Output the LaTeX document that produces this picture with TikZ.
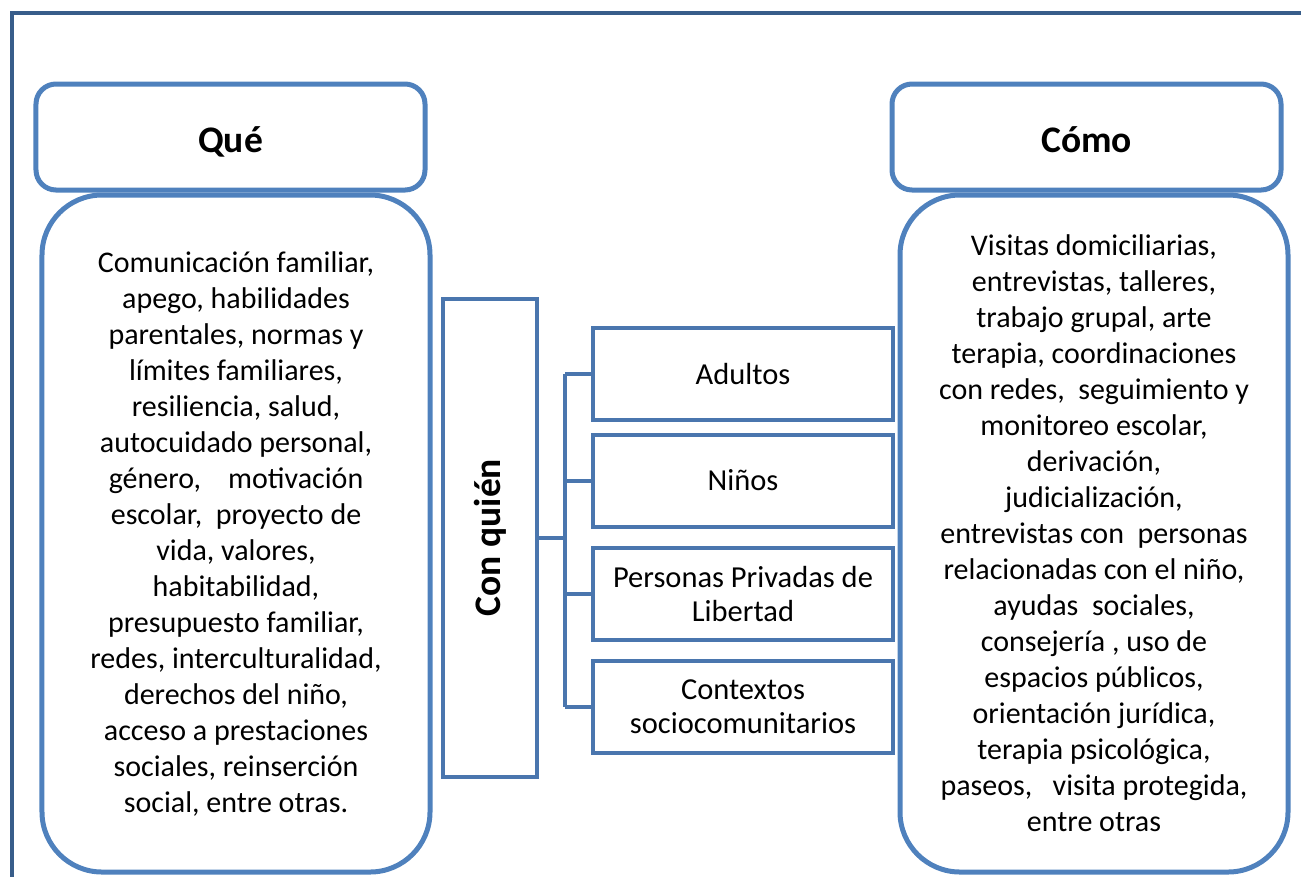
\documentclass[tikz,border=0pt]{standalone}
\usepackage{fontspec}
\setmainfont{Carlito}
\usepackage{tikz}

\definecolor{azulmarco}{HTML}{385D8A}
\definecolor{azulborde}{HTML}{4F81BD}
\definecolor{azulcaja}{HTML}{4A76AE}

\begin{document}
\begin{tikzpicture}[x=0.4pt,y=-0.4pt,
  titulo/.style={draw=azulborde, line width=2pt, rounded corners=8pt, minimum width=155.6pt, minimum height=42.4pt, text height=12.5pt, text depth=0pt, font=\fontsize{15}{18}\selectfont\bfseries},
  cuerpo/.style={draw=azulborde, line width=2pt, rounded corners=24pt, minimum width=155.2pt, minimum height=270.8pt, align=center, font=\fontsize{12}{14.4}\selectfont},
  grupo/.style={draw=azulcaja, line width=1.6pt, minimum width=120pt, minimum height=36.8pt, align=center, font=\fontsize{12.2}{13.6}\selectfont},
  enlace/.style={draw=azulcaja, line width=1.6pt}]
\useasboundingbox (0,0) rectangle (1301,876);

% marco
\draw[azulmarco, line width=1.8pt] (12,880) -- (12,13) -- (1305,13);

% que
\node[titulo] (que) at (230.5,137) {Qué};
\node[cuerpo] (quetexto) at (236,533.5) {Comunicación familiar,\\ apego, habilidades\\ parentales, normas y\\ límites familiares,\\ resiliencia, salud,\\ autocuidado personal,\\ género,~~~ motivación\\ escolar,~ proyecto de\\ vida, valores,\\ habitabilidad,\\ presupuesto familiar,\\ redes, interculturalidad,\\ derechos del niño,\\ acceso a prestaciones\\ sociales, reinserción\\ social, entre otras.};

% como
\node[titulo] (como) at (1086.5,137) {Cómo};
\node[cuerpo] (comotexto) at (1094,533.5) {Visitas domiciliarias,\\ entrevistas, talleres,\\ trabajo grupal, arte\\ terapia, coordinaciones\\ con redes,~ seguimiento y\\ monitoreo escolar,\\ derivación,\\ judicialización,\\ entrevistas con~ personas\\ relacionadas con el niño,\\ ayudas~ sociales,\\ consejería , uso de\\ espacios públicos,\\ orientación jurídica,\\ terapia psicológica,\\ paseos,~~ visita protegida,\\ entre otras};

% con quien
\node[draw=azulcaja, line width=1.6pt, minimum width=37.6pt, minimum height=191.2pt] (quien) at (490,537.5) {};
\node[rotate=90, font=\fontsize{15}{18}\selectfont\bfseries] (quienlabel) at (quien.center) {Con quién};

\node[grupo] (adultos) at (743,374) {Adultos};
\node[grupo] (ninos) at (743,480.5) {Niños};
\node[grupo] (personas) at (743,594) {Personas Privadas de\\ Libertad};
\node[grupo] (contextos) at (743,707) {Contextos\\ sociocomunitarios};

\coordinate (tronco) at (565,537.5);
\draw[enlace] (quien.east) -- (tronco);
\draw[enlace] (tronco |- adultos.west) -- (tronco |- contextos.west);
\foreach \n in {adultos,ninos,personas,contextos}
  \draw[enlace] (tronco |- \n.west) -- (\n.west);
\end{tikzpicture}
\end{document}
